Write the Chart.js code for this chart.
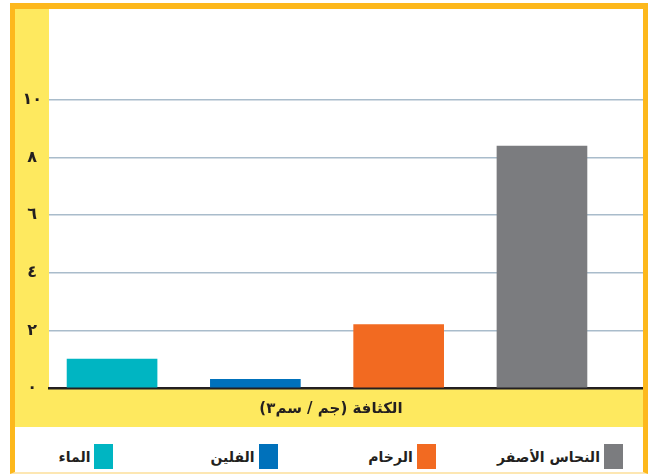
<!DOCTYPE html>
<html lang="ar">
<head>
<meta charset="utf-8">
<script src="https://cdn.jsdelivr.net/npm/chart.js@4.4.1/dist/chart.umd.min.js"></script>
<style>
  body { margin: 0; background: #fff; }
  #frame {
    position: absolute;
    left: 10px;
    top: 3px;
    width: 638px;
    height: 471px;
    box-sizing: border-box;
    border-top: 6px solid #fdb81c;
    border-left: 5px solid #fdb81c;
    border-right: 5px solid #fdb81c;
    border-bottom: 2px solid #fde7b3;
  }
  #density-chart { display: block; }
  #legend {
    display: grid;
    grid-template-columns: repeat(4, 1fr);
    width: 632px;
    height: 45px;
    margin-left: -8px;
  }
  .legend-item {
    display: flex;
    direction: rtl;
    justify-content: center;
    align-items: center;
    gap: 4px;
    padding-top: 17px;
    height: 25px;
    font: bold 14px "DejaVu Sans", sans-serif;
    color: #231f20;
  }
  .swatch { width: 19px; height: 25px; display: inline-block; }
</style>
</head>
<body>
<div id="frame">
  <canvas id="density-chart" width="628" height="418" dir="rtl"></canvas>
  <div id="legend"></div>
</div>
<script>
// data (density, g/cm3)
const materials = ['الماء', 'الفلين', 'الرخام', 'النحاس الأصفر'];
const densities = [1.0, 0.3, 2.2, 8.4];
const yTicks = [0, 2, 4, 6, 8, 10];
const yTickLabels = ['٠', '٢', '٤', '٦', '٨', '١٠'];
const axisTitle = 'الكثافة (جم / سم٣)';

const barColors = ['#00b5c2', '#0071bb', '#f26a21', '#7b7c7f'];
const yellow = '#fee95f';
const gridColor = '#a9bccb';
const ink = '#231f20';

// yellow bands behind the axes, white plot area
const bandsPlugin = {
  id: 'bands',
  beforeDraw(chart) {
    const { ctx, chartArea, width, height } = chart;
    ctx.save();
    ctx.fillStyle = '#fff';
    ctx.fillRect(0, 0, width, height);
    ctx.fillStyle = yellow;
    ctx.fillRect(0, 0, chartArea.left, height);
    ctx.fillRect(0, chartArea.bottom, width, height - chartArea.bottom);
    ctx.restore();
  }
};

const chart = new Chart(document.getElementById('density-chart'), {
  type: 'bar',
  data: {
    labels: materials,
    datasets: [{
      data: materials.map((m, i) => ({ x: i, y: densities[i] })),
      backgroundColor: barColors,
      borderWidth: 0,
      barThickness: 90
    }]
  },
  options: {
    responsive: false,
    animation: false,
    layout: { padding: { top: 91, right: 0, bottom: 0, left: 0 } },
    plugins: {
      legend: { display: false },
      tooltip: { enabled: false }
    },
    scales: {
      x: {
        type: 'linear',
        offset: false,
        min: -0.44,
        max: 3.705,
        z: 2,
        grid: { display: false, drawTicks: false },
        border: { display: true, color: ink, width: 2.5 },
        ticks: { display: false },
        title: {
          display: true,
          text: '\u2003\u2003' + axisTitle,
          color: ink,
          font: { family: 'DejaVu Sans', size: 15, weight: 'bold' },
          padding: { top: 12, bottom: 9 }
        }
      },
      y: {
        min: 0,
        max: 10,
        z: 1,
        afterFit: scale => { scale.width = 34; },
        border: { display: false },
        grid: {
          drawTicks: false,
          lineWidth: 1.5,
          color: c => (c.tick && c.tick.value === 0 ? 'rgba(0,0,0,0)' : gridColor)
        },
        ticks: {
          stepSize: 2,
          padding: 7,
          crossAlign: 'center',
          color: ink,
          font: { family: 'DejaVu Sans', size: 16, weight: 'bold' },
          callback: v => yTickLabels[yTicks.indexOf(v)]
        }
      }
    }
  },
  plugins: [bandsPlugin]
});

// legend below the chart, swatch to the right of each name
const legendEl = document.getElementById('legend');
chart.data.labels.forEach((label, i) => {
  const item = document.createElement('div');
  item.className = 'legend-item';
  const box = document.createElement('span');
  box.className = 'swatch';
  box.style.background = chart.data.datasets[0].backgroundColor[i];
  const text = document.createElement('span');
  text.textContent = label;
  item.append(box, text);
  legendEl.appendChild(item);
});
</script>
</body>
</html>
